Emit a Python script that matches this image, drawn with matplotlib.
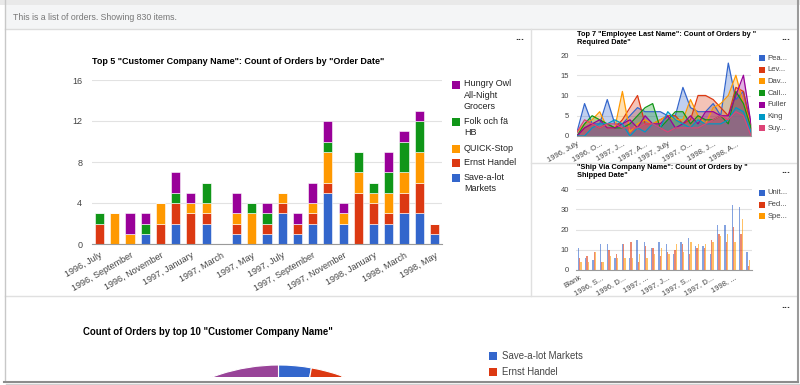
import matplotlib
matplotlib.use('Agg')
import matplotlib.pyplot as plt
from matplotlib.patches import Rectangle
import numpy as np

plt.rcParams['font.family'] = ['Liberation Sans', 'DejaVu Sans']

# Google chart palette
BLUE, RED, ORANGE, GREEN, PURPLE = '#3366cc', '#dc3912', '#ff9900', '#109618', '#990099'
CYAN, PINK = '#0099c6', '#dd4477'
TXT = '#444444'

# --- main chart: top 5 customers, orders per month (Jul 1996 .. May 1998)
month_labels = ['1996, July', '1996, September', '1996, November', '1997, January',
                '1997, March', '1997, May', '1997, July', '1997, September',
                '1997, November', '1998, January', '1998, March', '1998, May']
save_a_lot = [0, 0, 0, 1, 0, 2, 0, 2, 0, 1, 0, 1, 3, 1, 2, 5, 2, 0, 2, 2, 3, 3, 1]
ernst      = [2, 0, 0, 0, 2, 2, 3, 1, 0, 1, 0, 1, 1, 1, 1, 1, 0, 5, 2, 1, 2, 3, 1]
quick_stop = [0, 3, 1, 0, 2, 0, 1, 1, 0, 1, 3, 0, 1, 0, 1, 3, 1, 2, 1, 2, 2, 3, 0]
folk       = [1, 0, 0, 1, 0, 1, 0, 2, 0, 0, 1, 1, 0, 0, 0, 1, 0, 2, 1, 2, 3, 3, 0]
hungry_owl = [0, 0, 2, 1, 0, 2, 1, 0, 0, 2, 0, 1, 0, 1, 2, 2, 1, 0, 0, 2, 1, 1, 0]
customers = ['Save-a-lot\nMarkets', 'Ernst Handel', 'QUICK-Stop', 'Folk och fä\nHB',
             'Hungry Owl\nAll-Night\nGrocers']

# --- top right: employees, orders by required date
req_labels = ['1996, July', '1996, O...', '1997, J...', '1997, A...',
              '1997, July', '1997, O...', '1998, J...', '1998, A...']
employees = ['Pea...', 'Lev...', 'Dav...', 'Call...', 'Fuller', 'King', 'Suy...']
peacock   = [1, 8, 3, 3, 9, 3, 3, 5, 7, 6, 6, 6, 5, 5, 12, 7, 6, 6, 8, 5, 18, 9, 11, 3]
leverling = [0, 2, 3, 2, 3, 2, 4, 7, 10, 3, 3, 4, 5, 5, 3, 4, 10, 10, 9, 7, 5, 12, 11, 2]
davolio   = [1, 3, 4, 6, 2, 2, 11, 1, 3, 4, 3, 4, 5, 4, 4, 9, 5, 3, 7, 8, 10, 15, 8, 3]
callahan  = [0, 3, 5, 4, 3, 2, 2, 3, 5, 7, 8, 2, 4, 6, 6, 3, 5, 4, 4, 5, 3, 11, 8, 2]
fuller    = [0, 2, 3, 4, 2, 2, 3, 4, 2, 5, 3, 3, 5, 2, 3, 5, 3, 6, 6, 5, 5, 10, 15, 3]
king      = [0, 0, 2, 3, 3, 4, 3, 0, 2, 1, 3, 2, 6, 4, 3, 2, 4, 3, 3, 3, 4, 7, 6, 1]
suyama    = [1, 4, 3, 2, 3, 3, 2, 2, 2, 3, 3, 2, 1, 2, 2, 2, 2, 3, 4, 5, 4, 6, 5, 0]

# --- bottom right: shippers, orders by shipped date
ship_labels = ['Blank', '1996, S...', '1996, D...', '1997, ...', '1997, J...',
               '1997, S...', '1997, D...', '1998, ...']
shippers = ['Unit...', 'Fed...', 'Spe...']
united  = [11, 6, 5, 13, 13, 6, 13, 6, 15, 14, 11, 14, 13, 8, 14, 16, 12, 12, 8, 22, 22, 32, 31, 9]
federal = [6, 7, 9, 4, 10, 8, 13, 14, 4, 12, 11, 7, 9, 10, 13, 8, 11, 11, 15, 18, 14, 21, 18, 2]
speedy  = [4, 4, 9, 4, 7, 6, 6, 6, 8, 6, 8, 11, 8, 13, 9, 14, 13, 13, 14, 17, 18, 14, 25, 5]

# --- bottom: pie of top 10 customers (+ other)
pie_names = ['Save-a-lot Markets', 'Ernst Handel']
pie_values = [31, 30, 28, 19, 19, 18, 18, 18, 17, 15, 900]
pie_colors = [BLUE, RED, ORANGE, GREEN, PURPLE, CYAN, PINK, '#66aa00', '#b82e2e',
              '#316395', '#994499']

W, H = 800, 385
fig = plt.figure(figsize=(8, 3.85), dpi=100)


def px_axes(x0, y0, x1, y1, **kw):
    return fig.add_axes([x0 / W, 1 - y1 / H, (x1 - x0) / W, (y1 - y0) / H], **kw)


def style(ax, size):
    for s in ['top', 'right', 'left']:
        ax.spines[s].set_visible(False)
    ax.spines['bottom'].set_color('#9a9a9a')
    ax.spines['bottom'].set_linewidth(0.8)
    ax.grid(axis='y', color='#e2e2e2', lw=0.8)
    ax.set_axisbelow(True)
    ax.tick_params(length=0, labelsize=size, colors=TXT)
    ax.set_facecolor('none')


# background / page chrome
bg = px_axes(0, 0, W, H, zorder=-5)
bg.set_xlim(0, W)
bg.set_ylim(H, 0)
bg.axis('off')
bg.add_patch(Rectangle((0, 0), W, 5, color='#e9e9e9', lw=0))
bg.add_patch(Rectangle((5, 5), 792, 24, color='#f4f5f6', lw=0))
bg.plot([5, 797], [29, 29], color='#dcdcdc', lw=1)
bg.text(13, 18, 'This is a list of orders. Showing 830 items.', fontsize=6.3,
        color='#777777', va='center')
bg.plot([531, 531], [29, 296], color='#e0e0e0', lw=1)
bg.plot([531, 797], [162.5, 162.5], color='#e0e0e0', lw=1)
bg.plot([5, 797], [296, 296], color='#e0e0e0', lw=1)
for dx, dy in [(520, 37), (786, 37), (786, 170), (786, 305)]:
    bg.text(dx, dy, '...', fontsize=7.5, fontweight='bold', color='#333333',
            ha='center', va='center')

# titles
bg.text(92, 62, 'Top 5 "Customer Company Name": Count of Orders by "Order Date"',
        fontsize=6.5, fontweight='bold', va='center')
bg.text(577, 38.5, 'Top 7 "Employee Last Name": Count of Orders by "\nRequired Date"',
        fontsize=5.3, fontweight='bold', va='center', linespacing=1.35)
bg.text(577, 171.5, '"Ship Via Company Name": Count of Orders by "\nShipped Date"',
        fontsize=5.3, fontweight='bold', va='center', linespacing=1.35)
bg.text(83, 332, 'Count of Orders by top 10 "Customer Company Name"',
        fontsize=6.9, fontweight='bold', va='center')

# main stacked bars
ax = px_axes(92, 80, 442, 244)
series = [save_a_lot, ernst, quick_stop, folk, hungry_owl]
colors = [BLUE, RED, ORANGE, GREEN, PURPLE]
x = np.arange(len(save_a_lot))
bottom = np.zeros(len(x))
for vals, col in zip(series, colors):
    ax.bar(x, vals, 0.6, bottom=bottom, color=col, edgecolor='white', linewidth=0.4)
    bottom += np.array(vals)
ax.set_xlim(-0.5, len(x) - 0.5)
ax.set_ylim(0, 16)
ax.set_yticks([0, 4, 8, 12, 16])
ax.set_xticks(x[::2])
ax.set_xticklabels(month_labels, rotation=30, ha='right', va='top',
                   rotation_mode='anchor')
style(ax, 6.5)
ax.tick_params(axis='y', pad=7)
ax.tick_params(axis='x', pad=5)

# main legend (top entry first)
leg_y = [85, 122, 149.3, 163.3, 178.3]
for name, col, yy in zip(customers[::-1], colors[::-1], leg_y):
    bg.add_patch(Rectangle((452, yy - 4), 8, 8, color=col, lw=0))
    bg.text(464, yy - 5.5, name, fontsize=6.5, color='#222222', va='top',
            linespacing=1.3)

# top right area chart
ax2 = px_axes(577, 55, 751, 136)
t = np.arange(len(peacock))
emp_series = [peacock, leverling, davolio, callahan, fuller, king, suyama]
emp_colors = [BLUE, RED, ORANGE, GREEN, PURPLE, CYAN, PINK]
for vals, col in zip(emp_series, emp_colors):
    ax2.fill_between(t, vals, color=col, alpha=0.3, lw=0)
    ax2.plot(t, vals, color=col, lw=0.9)
ax2.set_xlim(0, len(t) - 1)
ax2.set_ylim(0, 20)
ax2.set_yticks([0, 5, 10, 15, 20])
ax2.set_xticks(t[::3])
ax2.set_xticklabels(req_labels, rotation=30, ha='right', va='top',
                    rotation_mode='anchor')
style(ax2, 5.5)
ax2.tick_params(axis='y', pad=6)
ax2.tick_params(axis='x', pad=3)
for i, (name, col) in enumerate(zip(employees, emp_colors)):
    yy = 58 + i * 11.7
    bg.add_patch(Rectangle((759, yy - 3), 6, 6, color=col, lw=0))
    bg.text(767.5, yy, name, fontsize=5.5, color=TXT, va='center')

# bottom right grouped bars
ax3 = px_axes(576, 189, 752, 270)
g = np.arange(len(united))
bw = 0.19
for k, (vals, col) in enumerate(zip([united, federal, speedy], [BLUE, RED, ORANGE])):
    ax3.bar(g + (k - 1) * bw, vals, bw, color=col, alpha=0.6, lw=0)
ax3.set_xlim(-0.5, len(g) - 0.5)
ax3.set_ylim(0, 40)
ax3.set_yticks([0, 10, 20, 30, 40])
ax3.set_xticks(g[::3])
ax3.set_xticklabels(ship_labels, rotation=30, ha='right', va='top',
                    rotation_mode='anchor')
style(ax3, 5.5)
ax3.tick_params(axis='y', pad=5)
ax3.tick_params(axis='x', pad=3)
for i, (name, col) in enumerate(zip(shippers, [BLUE, RED, ORANGE])):
    yy = 193 + i * 11.5
    bg.add_patch(Rectangle((759, yy - 3), 6, 6, color=col, lw=0))
    bg.text(767.5, yy, name, fontsize=5.5, color=TXT, va='center')

# pie (mostly cut off by the frame)
R = 189
cx, cy = 278.5, 365 + R
ax4 = px_axes(cx - R, cy - R, cx + R, cy + R)
ax4.pie(pie_values, colors=pie_colors, startangle=90, counterclock=False,
        wedgeprops=dict(edgecolor='white', linewidth=0.8))
ax4.set_xlim(-1, 1)
ax4.set_ylim(-1, 1)
ax4.axis('off')
for i, name in enumerate(pie_names):
    yy = 356 + i * 16
    bg.add_patch(Rectangle((489, yy - 4), 8, 8, color=pie_colors[i], lw=0))
    bg.text(502.5, yy, name, fontsize=6.9, color=TXT, va='center')

# frame on top
top = px_axes(0, 0, W, H, zorder=10)
top.set_xlim(0, W)
top.set_ylim(H, 0)
top.axis('off')
top.add_patch(Rectangle((0, 376.5), W, 10, color='white', lw=0))
top.plot([4.5, 4.5], [0, 381], color='#c8c8c8', lw=1)
top.plot([797.5, 797.5], [0, 382], color='#9a9a9a', lw=1.5)
top.plot([4, 798], [381.5, 381.5], color='#8c8c8c', lw=1.5)
top.plot([6, 799], [383.5, 383.5], color='#d0d0d0', lw=1)

fig.savefig('out.png', dpi=100)
